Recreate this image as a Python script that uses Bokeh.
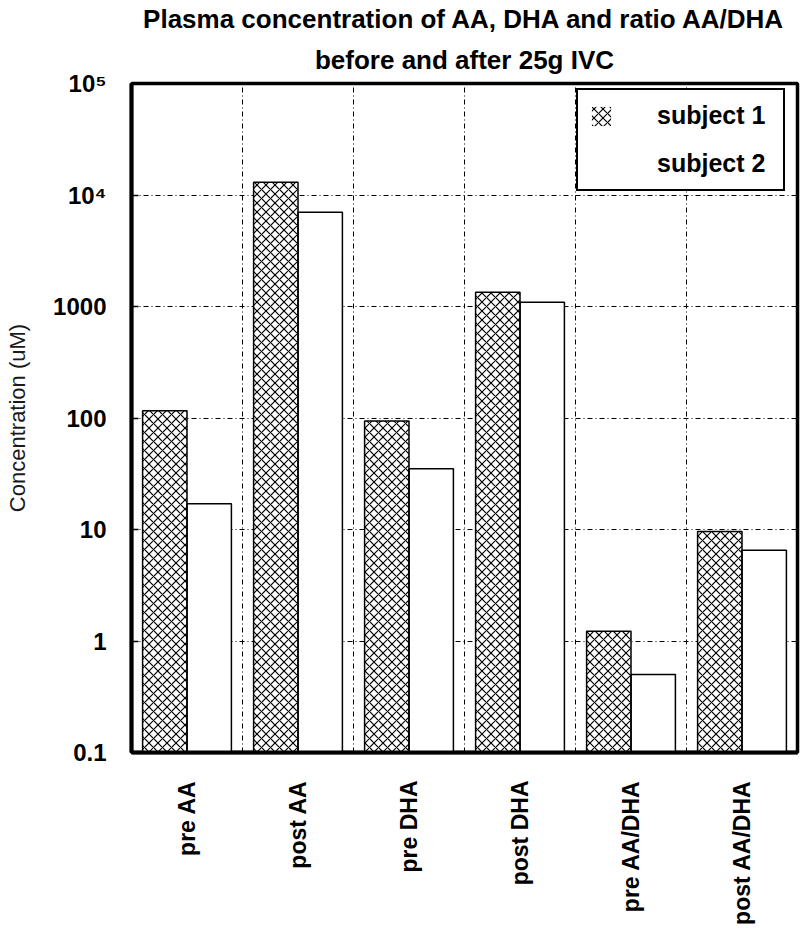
import numpy as np
from bokeh.plotting import figure
from bokeh.models import (ColumnDataSource, FixedTicker, Grid, Legend, Title,
                          LegendItem, Range1d, FactorRange)
from bokeh.transform import dodge
from bokeh.embed import file_html
from bokeh.resources import INLINE

# ---- data ----
categories = ["pre AA", "post AA", "pre DHA", "post DHA", "pre AA/DHA", "post AA/DHA"]
subject1 = [116, 13000, 94, 1340, 1.22, 9.6]
subject2 = [17, 7000, 35, 1090, 0.5, 6.5]
y_ticks = [0.1, 1, 10, 100, 1000, 10000, 100000]
y_tick_labels = ["0.1", "1", "10", "100", "1000", "10\u2074", "10\u2075"]
title_lines = ["Plasma concentration of AA, DHA and ratio AA/DHA",
               "before and after 25g IVC"]

FONT = "Liberation Sans"

p = figure(x_range=FactorRange(*categories), y_axis_type="log",
           y_range=Range1d(0.1, 1e5), width=801, height=930,
           output_backend="svg", toolbar_location=None,
           min_border_left=131, min_border_right=4,
           min_border_top=83, min_border_bottom=178)
p.background_fill_color = "white"
p.border_fill_color = "white"
p.outline_line_color = "black"
p.outline_line_width = 3.5

# title (two centred lines)
p.title.text = title_lines[0]
p.title.align = "center"
p.title.text_font = FONT
p.title.text_font_style = "bold"
p.title.text_font_size = "26px"
p.title.text_color = "black"
p.title.standoff = 0
p.add_layout(Title(text=title_lines[1], align="center",
                   text_font=FONT, text_font_style="bold",
                   text_font_size="26px", text_color="black", standoff=18),
             "above")

src = ColumnDataSource(dict(cat=categories, s1=subject1, s2=subject2))

hatch = dict(hatch_pattern="diagonal_cross", hatch_scale=9, hatch_weight=1.2,
             hatch_color="black")
x1 = dodge("cat", -0.2, range=p.x_range)
x2 = dodge("cat", 0.2, range=p.x_range)

# fills (used by legend, no outline) + outlines
r1 = p.vbar(x=x1, top="s1", bottom=0.01, width=0.4, source=src,
            fill_color="white", line_alpha=0, **hatch)
r2 = p.vbar(x=x2, top="s2", bottom=0.01, width=0.4, source=src,
            fill_color="white", line_alpha=0)
p.vbar(x=x1, top="s1", bottom=0.01, width=0.4, source=src,
       fill_color=None, line_color="black", line_width=1.5)
p.vbar(x=x2, top="s2", bottom=0.01, width=0.4, source=src,
       fill_color=None, line_color="black", line_width=1.5)

legend = Legend(items=[LegendItem(label="subject 1", renderers=[r1]),
                       LegendItem(label="subject 2", renderers=[r2])],
                location=(445, 561), orientation="vertical",
                label_text_font=FONT, label_text_font_style="bold",
                label_text_font_size="25px", label_text_color="black",
                glyph_width=24, glyph_height=24, label_standoff=44,
                label_width=115, padding=11, spacing=19, margin=0,
                border_line_color="black", border_line_width=2,
                border_line_alpha=1,
                background_fill_color="white", background_fill_alpha=1)
p.add_layout(legend)

# y axis
p.yaxis.ticker = FixedTicker(ticks=y_ticks)
p.yaxis.major_label_overrides = dict(zip(y_ticks, y_tick_labels))
p.yaxis.major_label_text_font = FONT
p.yaxis.major_label_text_font_style = "bold"
p.yaxis.major_label_text_font_size = "24px"
p.yaxis.major_label_text_color = "black"
p.yaxis.major_label_standoff = 25
p.yaxis.major_tick_in = 7
p.yaxis.major_tick_out = 0
p.yaxis.major_tick_line_width = 1.5
p.yaxis.minor_tick_line_color = None
p.yaxis.axis_line_width = 4
p.yaxis.axis_label = "Concentration (uM)"
p.yaxis.axis_label_text_font = FONT
p.yaxis.axis_label_text_font_style = "normal"
p.yaxis.axis_label_text_font_size = "22px"
p.yaxis.axis_label_text_color = "#1a1a1a"
p.yaxis.axis_label_standoff = 20

# x axis
p.xaxis.major_label_orientation = np.pi / 2
p.xaxis.major_label_text_font = FONT
p.xaxis.major_label_text_font_style = "bold"
p.xaxis.major_label_text_font_size = "23px"
p.xaxis.major_label_text_color = "black"
p.xaxis.major_label_standoff = 22
p.xaxis.major_tick_line_color = None
p.xaxis.axis_line_width = 4

# grids
dash = "5 3 1 3"
p.xgrid.visible = False
p.ygrid.ticker = FixedTicker(ticks=y_ticks[1:-1])
p.ygrid.grid_line_color = "black"
p.ygrid.grid_line_dash = dash
p.ygrid.grid_line_width = 1
vgrid = Grid(dimension=0, ticker=FixedTicker(ticks=[1, 2, 3, 4, 5]),
             grid_line_color="black", grid_line_dash=dash, grid_line_width=1)
p.add_layout(vgrid)

open("out.html", "w").write(file_html(p, INLINE))
